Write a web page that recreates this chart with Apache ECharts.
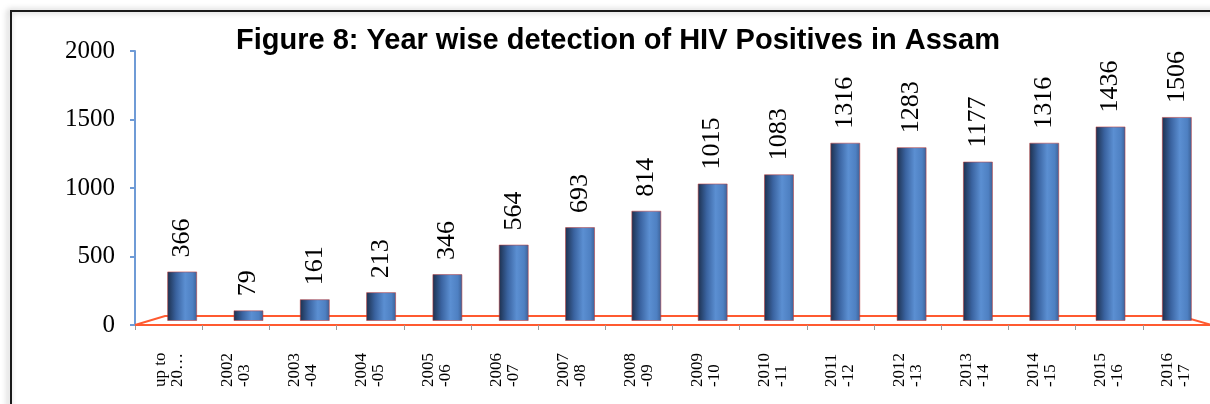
<!DOCTYPE html>
<html>
<head>
<meta charset="utf-8">
<script src="https://cdn.jsdelivr.net/npm/echarts@6/dist/echarts.min.js"></script>
<style>
html, body { margin: 0; padding: 0; background: #fff; }
#chart { width: 1210px; height: 404px; }
</style>
</head>
<body>
<div id="chart"></div>
<script>
// year labels as printed under the axis (first one is cut off in the source)
const categories = [
    'up to\n20…', '2002\n-03', '2003\n-04', '2004\n-05', '2005\n-06', '2006\n-07',
    '2007\n-08', '2008\n-09', '2009\n-10', '2010\n-11', '2011\n-12', '2012\n-13',
    '2013\n-14', '2014\n-15', '2015\n-16', '2016\n-17'
];
const hivPositives = [366, 79, 161, 213, 346, 564, 693, 814, 1015, 1083, 1316, 1283, 1177, 1316, 1436, 1506];
const yTicks = [0, 500, 1000, 1500, 2000];

const serif = '"Liberation Serif", "DejaVu Serif", serif';
const floorRed = '#ff5a30';

const chart = echarts.init(document.getElementById('chart'));

// cylinder-ish shading for the bars
const barFill = new echarts.graphic.LinearGradient(0, 0, 1, 0, [
    { offset: 0, color: '#1c2f4c' },
    { offset: 0.3, color: '#3a63a0' },
    { offset: 0.6, color: '#5b8fd2' },
    { offset: 0.85, color: '#4e80c2' },
    { offset: 1, color: '#3b5f94' },
]);

const option = {
    animation: false,
    title: {
        text: 'Figure 8: Year wise detection of HIV Positives in Assam',
        left: 231,
        top: 21,
        textStyle: {
            fontFamily: '"Liberation Sans", Arial, sans-serif',
            fontSize: 29,
            fontWeight: 'bold',
            color: '#000',
        },
    },
    grid: [
        // axes grid
        { left: 135, right: 0, top: 51, bottom: 79 },
        // bars sit a bit right/up, like the 3d depth offset of the source
        { left: 149, right: -14, top: 50, bottom: 83 },
    ],
    xAxis: [
        {
            gridIndex: 0,
            type: 'category',
            data: categories,
            axisLine: { show: true, lineStyle: { color: floorRed, width: 2 } },
            axisTick: { show: true, length: 5, lineStyle: { color: '#999' } },
            axisLabel: {
                rotate: 90,
                align: 'left',
                verticalAlign: 'middle',
                margin: 62,
                interval: 0,
                fontFamily: serif,
                fontSize: 17,
                lineHeight: 17,
                color: '#000',
            },
        },
        {
            gridIndex: 1,
            type: 'category',
            data: categories,
            show: false,
        },
    ],
    yAxis: [
        {
            gridIndex: 0,
            type: 'value',
            min: yTicks[0],
            max: yTicks[yTicks.length - 1],
            interval: yTicks[1] - yTicks[0],
            axisLine: { show: true, lineStyle: { color: '#6f9bd6', width: 2 } },
            axisTick: { show: true, length: 5, lineStyle: { color: '#6f9bd6', width: 2 } },
            splitLine: { show: false },
            axisLabel: {
                margin: 20,
                formatter: (v) => String(v),
                fontFamily: serif,
                fontSize: 25,
                color: '#000',
            },
        },
        {
            gridIndex: 1,
            type: 'value',
            min: yTicks[0],
            max: yTicks[yTicks.length - 1],
            show: false,
        },
    ],
    series: [
        {
            type: 'bar',
            xAxisIndex: 1,
            yAxisIndex: 1,
            data: hivPositives,
            barWidth: 30,
            itemStyle: {
                color: barFill,
                borderColor: 'rgba(190,60,60,0.55)',
                borderWidth: 1,
            },
            label: {
                show: true,
                position: 'top',
                rotate: 90,
                align: 'left',
                verticalAlign: 'middle',
                distance: 14,
                fontFamily: serif,
                fontSize: 26,
                color: '#000',
            },
            z: 3,
        },
    ],
};

chart.setOption(option);

// red perspective floor and outer frame, placed from the axis scale
const base = chart.convertToPixel({ yAxisIndex: 0 }, 0);
const left = 135;
const W = chart.getWidth();
const depth = 9;
chart.setOption({
    graphic: [
        {
            type: 'polyline',
            z: 1,
            shape: {
                points: [
                    [left, base],
                    [left + 30, base - depth],
                    [W - 30, base - depth],
                    [W + 2, base],
                ],
            },
            style: { stroke: floorRed, lineWidth: 2, fill: null },
        },
        {
            type: 'rect',
            z: 0,
            shape: { x: 11, y: 11, width: W + 50, height: 500 },
            style: {
                fill: null,
                stroke: '#1a1a1a',
                lineWidth: 2,
                shadowBlur: 6,
                shadowColor: 'rgba(0,0,0,0.35)',
                shadowOffsetX: -2,
            },
        },
    ],
});

window.addEventListener('resize', () => chart.resize());
</script>
</body>
</html>
